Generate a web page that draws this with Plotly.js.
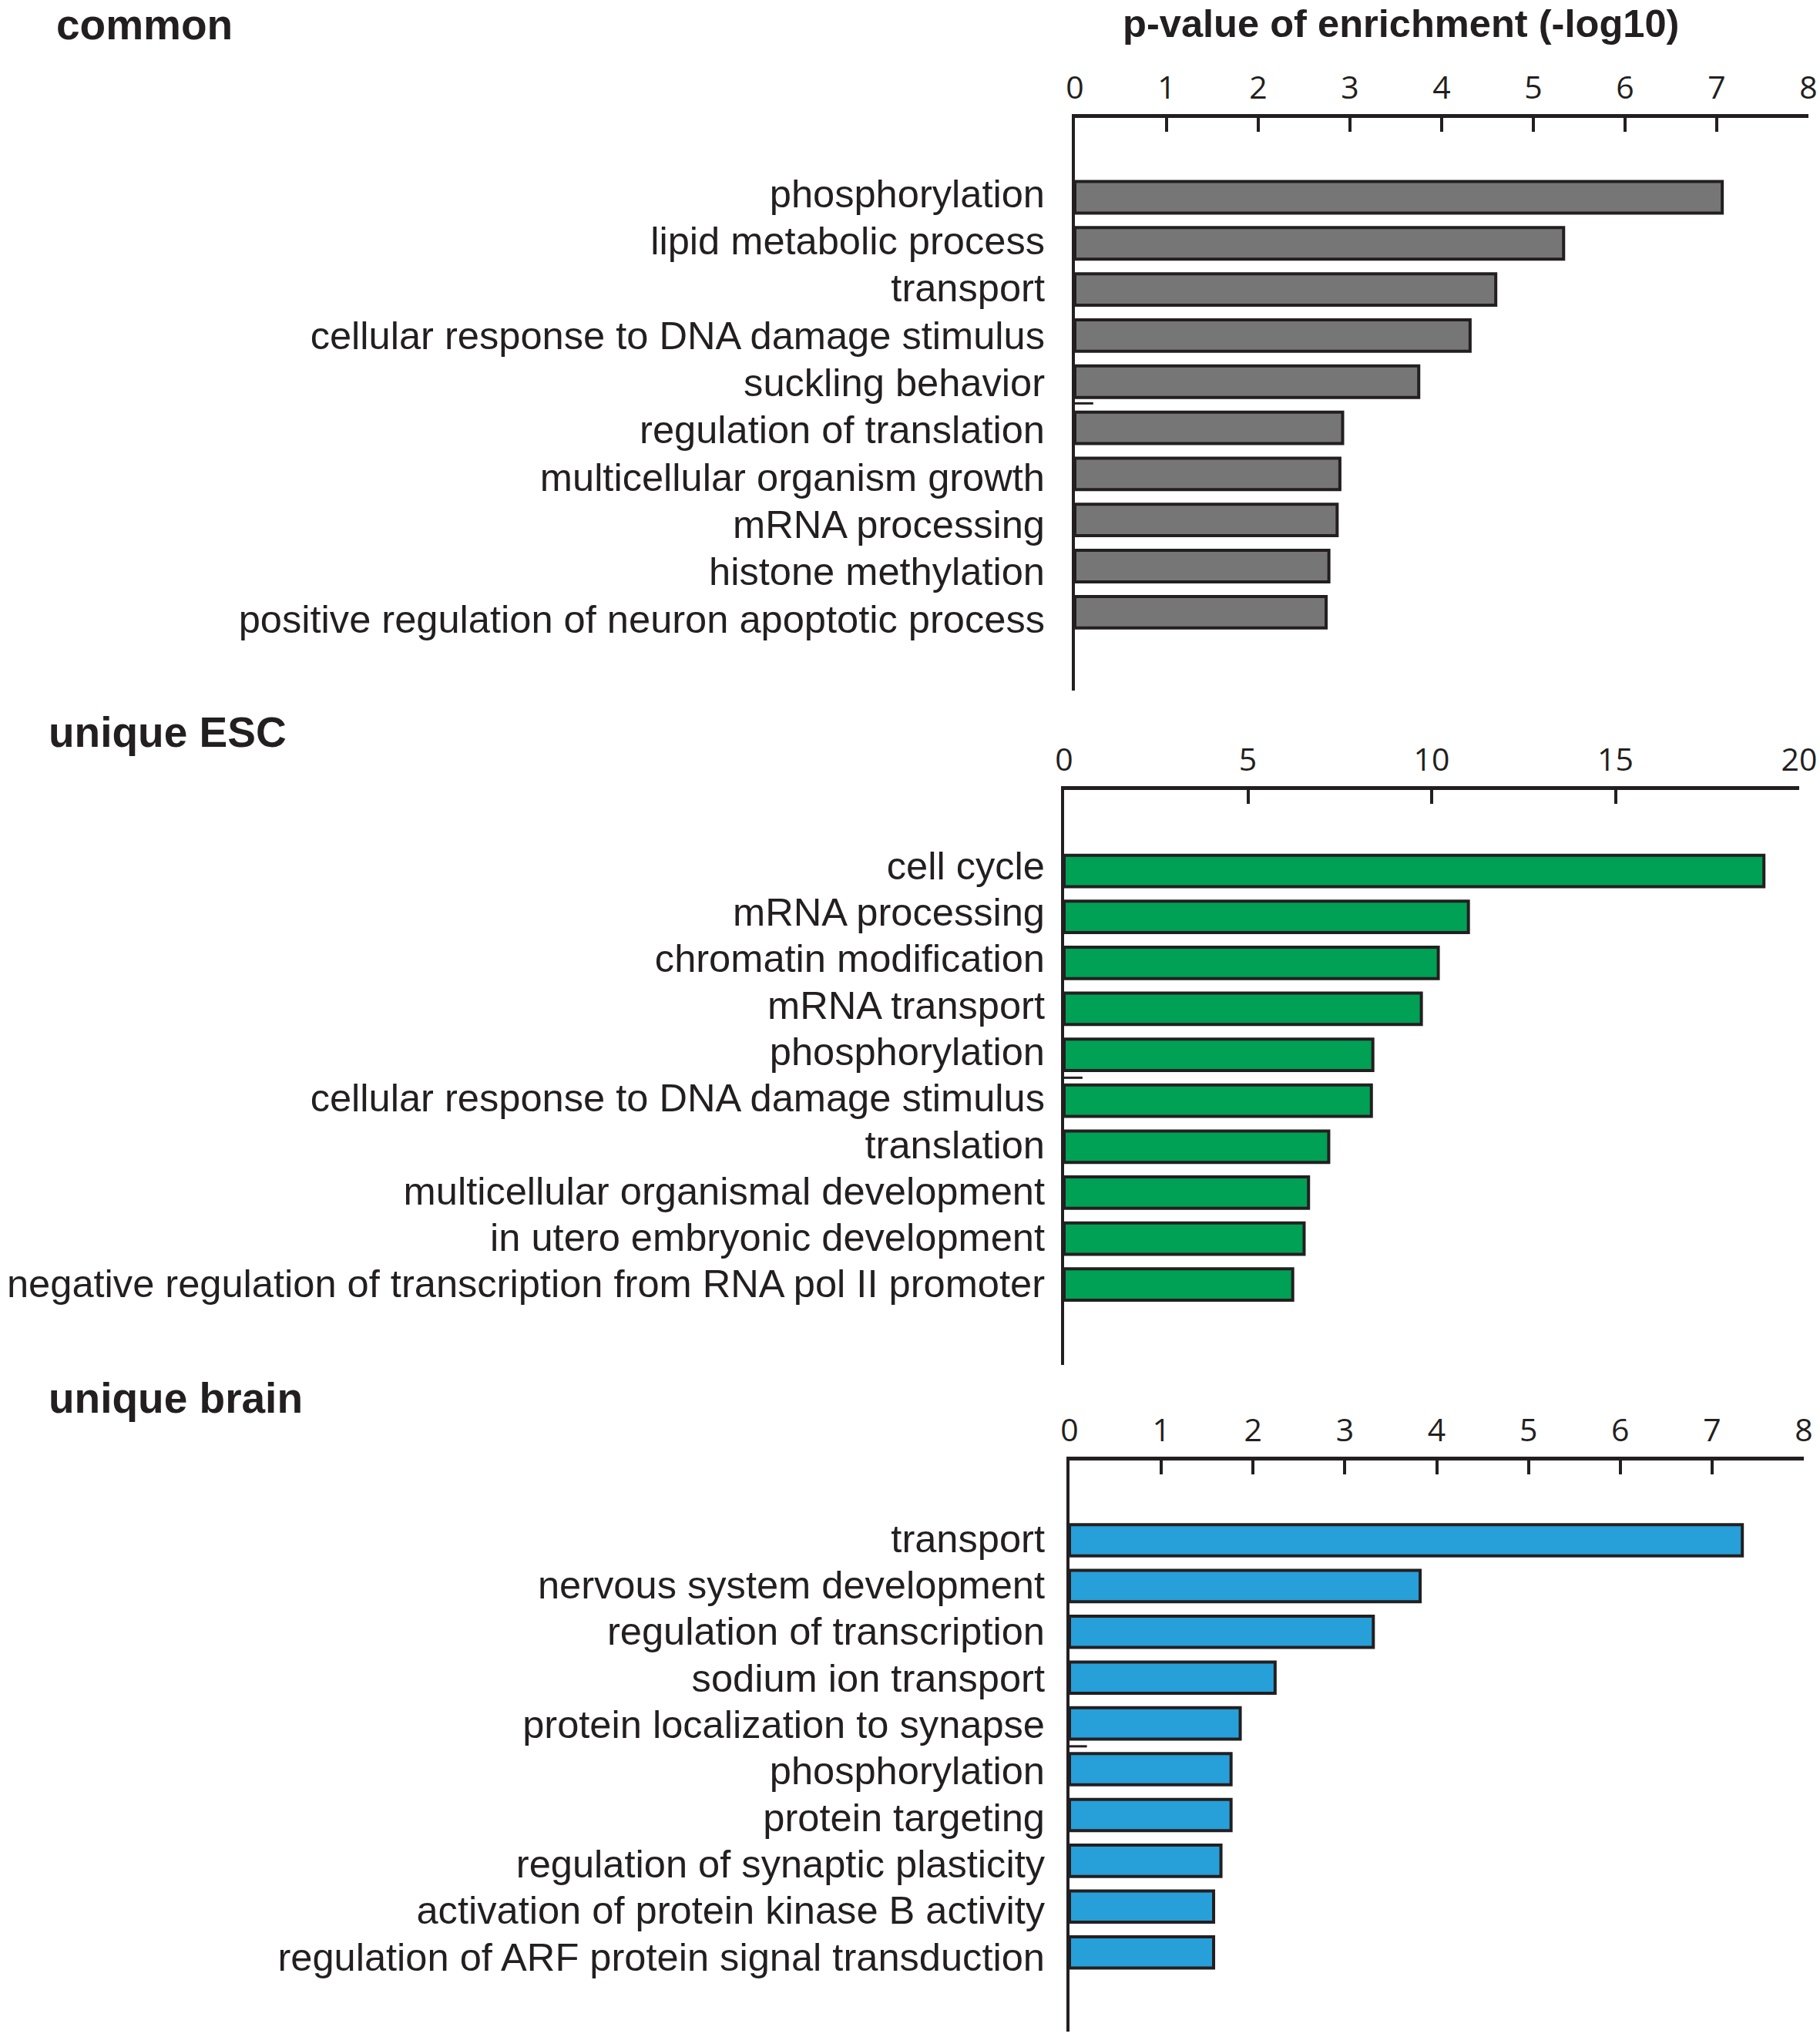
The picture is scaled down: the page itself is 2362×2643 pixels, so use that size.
<!DOCTYPE html>
<html><head><meta charset="utf-8">
<script src="https://cdn.plot.ly/plotly-3.0.1.min.js"></script>
<style>html,body{margin:0;padding:0;background:#fff}#chart{width:2362px;height:2643px}</style>
</head><body><div id="chart"></div>
<script>
// ---- data ----
const commonTerms = ["phosphorylation","lipid metabolic process","transport","cellular response to DNA damage stimulus","suckling behavior","regulation of translation","multicellular organism growth","mRNA processing","histone methylation","positive regulation of neuron apoptotic process"];
const commonValues = [7.06, 5.33, 4.59, 4.31, 3.75, 2.92, 2.89, 2.86, 2.77, 2.74];

const escTerms = ["cell cycle","mRNA processing","chromatin modification","mRNA transport","phosphorylation","cellular response to DNA damage stimulus","translation","multicellular organismal development","in utero embryonic development","negative regulation of transcription from RNA pol II promoter"];
const escValues = [19.04, 11.0, 10.18, 9.72, 8.4, 8.36, 7.2, 6.65, 6.53, 6.22];

const brainTerms = ["transport","nervous system development","regulation of transcription","sodium ion transport","protein localization to synapse","phosphorylation","protein targeting","regulation of synaptic plasticity","activation of protein kinase B activity","regulation of ARF protein signal transduction"];
const brainValues = [7.33, 3.82, 3.31, 2.24, 1.86, 1.76, 1.76, 1.65, 1.57, 1.57];

const panelTitles = ["common","unique ESC","unique brain"];
const axisTitle = "p-value of enrichment (-log10)";
const ticks8 = [0,1,2,3,4,5,6,7,8];
const ticks20 = [0,5,10,15,20];

// ---- style ----
const W = 2362, H = 2643;
const ink = "#231f20";
const colors = ["#767676","#00a055","#279fd9"];
const px = v => v / W;
const py = v => 1 - v / H;

function bar(terms, vals, color, xa, ya){
  return {type:"bar", orientation:"h", y:terms, x:vals, xaxis:xa, yaxis:ya,
    marker:{color:color, line:{color:ink, width:4}}, hoverinfo:"x+y"};
}
// invisible trace that only carries the label axis
function labelCarrier(terms, vals, xa, ya){
  return {type:"scatter", mode:"none", y:terms, x:vals, xaxis:xa, yaxis:ya, hoverinfo:"skip", showlegend:false};
}
function xax(range, tv, dom, anchor){
  return {domain:dom, anchor:anchor, side:"top", range:range, tickmode:"array", tickvals:tv,
    ticktext:tv.map(String), ticks:"inside", ticklen:18, tickwidth:4, tickcolor:ink,
    showline:true, linewidth:4.5, linecolor:ink, showgrid:false, zeroline:false,
    tickfont:{family:"Open Sans, Liberation Sans, sans-serif", size:41, color:ink},
    ticklabelstandoff:4, fixedrange:true};
}
// bar axis (line only)
function yax(terms, dom, anchor, range){
  return {domain:dom, anchor:anchor, type:"category", categoryorder:"array", categoryarray:terms,
    range:range, showline:true, linewidth:4, linecolor:ink, ticks:"", showticklabels:false,
    showgrid:false, zeroline:false, fixedrange:true};
}
// label axis overlaid on the bar axis (labels in the figure are spaced slightly wider than the bars)
function labax(terms, over, anchor, standoff, range){
  return {overlaying:over, anchor:anchor, side:"left", type:"category", categoryorder:"array", categoryarray:terms,
    tickmode:"array", tickvals:terms, ticktext:terms, range:range,
    showline:false, ticks:"", showgrid:false, zeroline:false,
    tickfont:{family:"Liberation Sans, Arial, sans-serif", size:50.6, color:ink},
    ticklabelstandoff:standoff, fixedrange:true};
}

const data = [
  bar(commonTerms, commonValues, colors[0], "x", "y"),
  bar(escTerms, escValues, colors[1], "x2", "y2"),
  bar(brainTerms, brainValues, colors[2], "x3", "y3"),
  labelCarrier(commonTerms, commonValues, "x", "y4"),
  labelCarrier(escTerms, escValues, "x2", "y5"),
  labelCarrier(brainTerms, brainValues, "x3", "y6")
];

const titleFont = {family:"Liberation Sans, Arial, sans-serif", size:55, color:ink, weight:700};

const layout = {
  width:W, height:H, margin:{l:0,r:0,t:0,b:0}, showlegend:false,
  paper_bgcolor:"#fff", plot_bgcolor:"rgba(0,0,0,0)", bargap:0.317,
  xaxis:  xax([0,8],  ticks8,  [px(1395), px(2347)], "y"),
  yaxis:  yax(commonTerms, [py(896), py(152.5)], "x", [10.7, -1.73]),
  yaxis4: labax(commonTerms, "y", "x", 38, [10.52, -1.607]),
  xaxis2: xax([0,20], ticks20, [px(1381), px(2335)], "y2"),
  yaxis2: yax(escTerms, [py(1771), py(1024.5)], "x2", [10.75, -1.77]),
  yaxis5: labax(escTerms, "y2", "x2", 24, [10.746, -1.633]),
  xaxis3: xax([0,8],  ticks8,  [px(1388), px(2341)], "y3"),
  yaxis3: yax(brainTerms, [py(2636), py(1894.5)], "x3", [10.73, -1.75]),
  yaxis6: labax(brainTerms, "y3", "x3", 31, [10.61, -1.683]),
  annotations:[
    {text:panelTitles[0], xref:"paper", yref:"paper", x:px(72), y:py(32), xanchor:"left", yanchor:"middle", showarrow:false, borderpad:0, font:titleFont},
    {text:axisTitle, xref:"paper", yref:"paper", x:px(1818), y:py(30), xanchor:"center", yanchor:"middle", showarrow:false, borderpad:0, font:Object.assign({}, titleFont, {size:50.6})},
    {text:panelTitles[1], xref:"paper", yref:"paper", x:px(62), y:py(950), xanchor:"left", yanchor:"middle", showarrow:false, borderpad:0, font:titleFont},
    {text:panelTitles[2], xref:"paper", yref:"paper", x:px(62), y:py(1814), xanchor:"left", yanchor:"middle", showarrow:false, borderpad:0, font:titleFont}
  ],
  shapes:[
    {type:"line", xref:"x",  yref:"y",  x0:0, x1:0.2, y0:4.47, y1:4.47, line:{color:ink, width:3}},
    {type:"line", xref:"x2", yref:"y2", x0:0, x1:0.5, y0:4.5,  y1:4.5,  line:{color:ink, width:3}},
    {type:"line", xref:"x3", yref:"y3", x0:0, x1:0.19, y0:4.5, y1:4.5,  line:{color:ink, width:3}}
  ]
};

Plotly.newPlot("chart", data, layout, {staticPlot:true, displayModeBar:false});
</script>
</body></html>
